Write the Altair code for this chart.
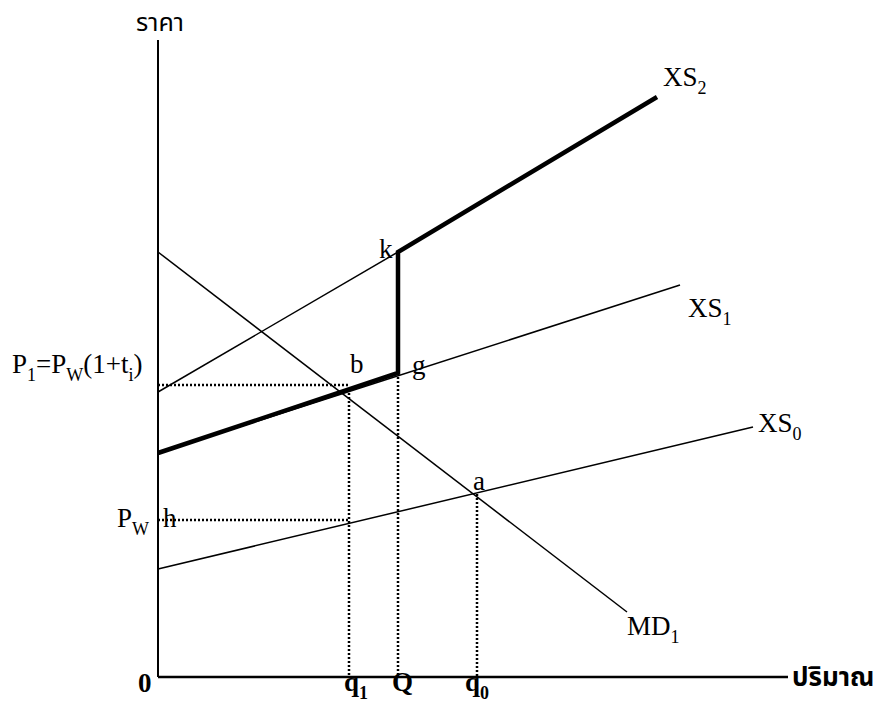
import altair as alt
import pandas as pd

# ---------------- data (diagram units: quantity, price) ----------------
# key quantities on the horizontal axis
q1, Q, q0 = 19.1, 24.0, 31.9
# key price levels
Pw, P1 = 15.7, 29.2
# axis extents
x_axis_end, y_axis_top = 63.0, 63.7

# curves (endpoints / vertices)
md1_x, md1_y = [0.0, 46.9], [42.5, 6.5]
xs0_x, xs0_y = [0.0, 59.5], [10.8, 25.0]
xs1_x, xs1_y = [0.0, 52.2], [22.4, 39.2]
xs1t_x, xs1t_y = [0.0, 24.0], [28.5, 42.5]          # XS1 shifted up by the tariff
xs2_x, xs2_y = [0.0, 24.0, 24.0, 49.9], [22.4, 30.4, 42.5, 58.0]

# points
a_pt = (31.9, 18.3)
g_pt = (24.0, 30.4)
k_pt = (24.0, 42.5)

PX = 10.0  # pixels per diagram unit
X_DOM = [-15.0, 72.1]
Y_DOM = [-3.5, 66.9]
W = (X_DOM[1] - X_DOM[0]) * PX
H = (Y_DOM[1] - Y_DOM[0]) * PX

xs = alt.Scale(domain=X_DOM, nice=False, zero=False)
ys = alt.Scale(domain=Y_DOM, nice=False, zero=False)


def line_df(name, xv, yv):
    return pd.DataFrame({"s": name, "o": list(range(len(xv))), "x": xv, "y": yv})


def line_layer(df, width, dash=None):
    kw = dict(color="black", strokeWidth=width, strokeCap="butt", clip=False)
    if dash:
        kw["strokeDash"] = dash
    return alt.Chart(df).mark_line(**kw).encode(
        x=alt.X("x:Q", scale=xs, axis=None),
        y=alt.Y("y:Q", scale=ys, axis=None),
        detail="s:N",
        order="o:Q",
    )


thin = pd.concat([
    line_df("MD1", md1_x, md1_y),
    line_df("XS0", xs0_x, xs0_y),
    line_df("XS1", xs1_x, xs1_y),
    line_df("XS1t", xs1t_x, xs1t_y),
])
thick = line_df("XS2", xs2_x, xs2_y)
axes_y = line_df("yaxis", [0.0, 0.0], [0.0, y_axis_top])
axes_x = line_df("xaxis", [0.0, x_axis_end], [0.0, 0.0])
dotted = pd.concat([
    line_df("P1", [0.0, q1], [P1, P1]),
    line_df("Pw", [0.0, q1], [Pw, Pw]),
    line_df("q1", [q1, q1], [P1 - 0.8, 0.0]),
    line_df("Q", [Q, Q], [g_pt[1], 0.0]),
    line_df("q0", [q0, q0], [a_pt[1], 0.0]),
])

# ---------------- labels ----------------
# metrics (Times / Liberation Serif advance widths, per em)
ADV = {"P": 0.556, "W": 0.944, "X": 0.722, "S": 0.556, "M": 0.889, "D": 0.722,
       "=": 0.564, "(": 0.333, ")": 0.333, "+": 0.564, "t": 0.278, "i": 0.278,
       "0": 0.5, "1": 0.5, "2": 0.5, "q": 0.5, "Q": 0.722, "a": 0.444, "b": 0.5,
       "g": 0.5, "h": 0.5, "k": 0.5}
ADV_B = {"q": 0.556, "Q": 0.778, "0": 0.5, "1": 0.5}
MAIN, SUB, SUB_DROP = 27, 18, 8

rows = []


def label(ax, ay, pieces, dx, dy, bold=False):
    """pieces: list of (text, is_subscript); dx, dy pixel offset of the baseline start."""
    cur = dx
    for txt, sub in pieces:
        size = SUB if sub else MAIN
        table = ADV_B if bold else ADV
        rows.append({
            "x": ax + cur / PX,
            "y": ay - (dy + (SUB_DROP if sub else 0)) / PX,
            "t": txt,
            "size": size,
            "bold": bold,
        })
        cur += sum(table.get(c, 0.5) for c in txt) * size


label(0.0, P1, [("P", 0), ("1", 1), ("=P", 0), ("W", 1), ("(1+t", 0), ("i", 1), (")", 0)], -146, -12)
label(0.0, Pw, [("P", 0), ("W", 1)], -41, 7)
label(0.0, Pw, [("h", 0)], 5, 7)
label(q1, P1, [("b", 0)], 1, -12)
label(g_pt[0], g_pt[1], [("g", 0)], 14, 1)
label(k_pt[0], k_pt[1], [("k", 0)], -19, 6)
label(a_pt[0], a_pt[1], [("a", 0)], -4, -4)
label(xs2_x[-1], xs2_y[-1], [("XS", 0), ("2", 1)], 6, -11)
label(xs1_x[-1], xs1_y[-1], [("XS", 0), ("1", 1)], 8, 32)
label(xs0_x[-1], xs0_y[-1], [("XS", 0), ("0", 1)], 5, 5)
label(md1_x[-1], md1_y[-1], [("MD", 0), ("1", 1)], 0, 23)
label(0.0, 0.0, [("0", 0)], -20, 15, bold=True)
label(q1, 0.0, [("q", 0), ("1", 1)], -5, 14, bold=True)
label(Q, 0.0, [("Q", 0)], -6, 14, bold=True)
label(q0, 0.0, [("q", 0), ("0", 1)], -12, 14, bold=True)

lab = pd.DataFrame(rows)


def text_layer(df, weight):
    return alt.Chart(df).mark_text(
        align="left", baseline="alphabetic", font="Liberation Serif",
        fontWeight=weight, color="black"
    ).encode(
        x=alt.X("x:Q", scale=xs, axis=None),
        y=alt.Y("y:Q", scale=ys, axis=None),
        text="t:N",
        size=alt.Size("size:Q", scale=None, legend=None),
    )


thai = pd.DataFrame({
    "x": [0.0, x_axis_end], "y": [y_axis_top, 0.0],
    "t": ["ราคา", "ปริมาณ"],
})
THAI_FONT = "Noto Sans Thai, Noto Sans, DejaVu Sans, sans-serif"
thai_price = alt.Chart(thai.iloc[[0]]).mark_text(
    align="center", baseline="middle", font=THAI_FONT,
    fontSize=25, dy=-17, dx=2, color="black"
).encode(x=alt.X("x:Q", scale=xs, axis=None), y=alt.Y("y:Q", scale=ys, axis=None), text="t:N")
thai_qty = alt.Chart(thai.iloc[[1]]).mark_text(
    align="left", baseline="middle", font=THAI_FONT,
    fontSize=26, fontWeight="bold", dx=4, dy=1, color="black"
).encode(x=alt.X("x:Q", scale=xs, axis=None), y=alt.Y("y:Q", scale=ys, axis=None), text="t:N")

chart = alt.layer(
    line_layer(dotted, 2.5, [2, 2]),
    line_layer(thin, 1.5),
    line_layer(thick, 4.5),
    line_layer(axes_y, 2),
    line_layer(axes_x, 2.5),
    text_layer(lab[~lab["bold"]], "normal"),
    text_layer(lab[lab["bold"]], "bold"),
    thai_price,
    thai_qty,
).properties(
    width=W, height=H, padding=0, autosize="none", background="white"
).configure_view(stroke=None)

chart.save("out.html", embed_options={"renderer": "svg", "actions": False})
